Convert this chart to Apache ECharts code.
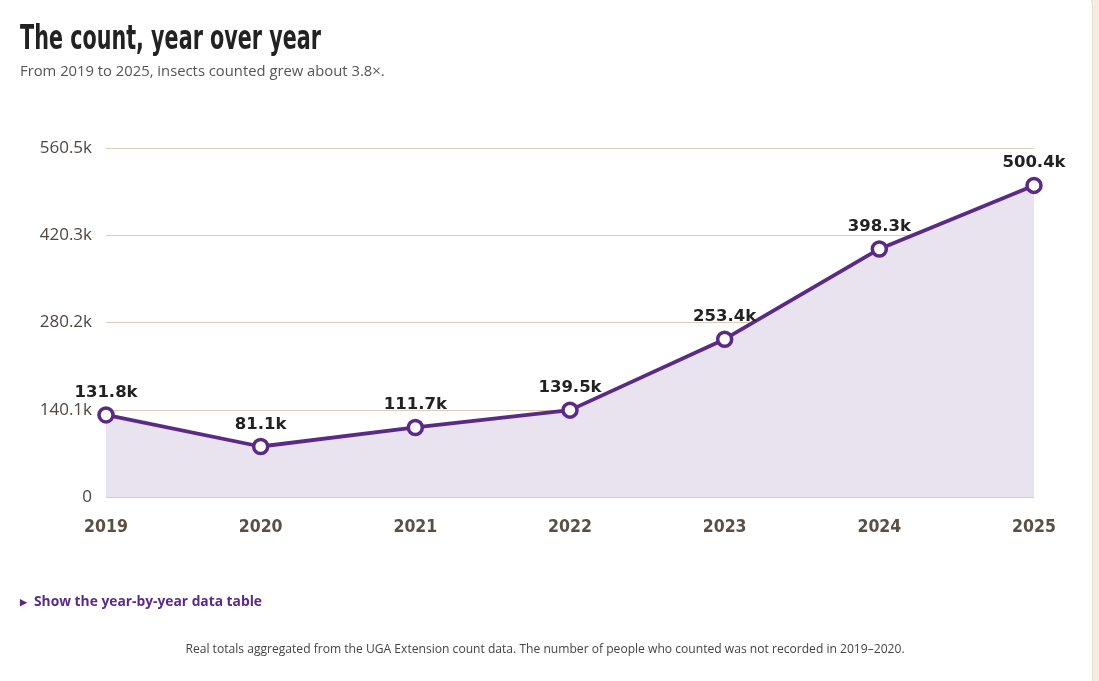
<!DOCTYPE html>
<html>
<head>
<meta charset="utf-8">
<script src="https://cdn.jsdelivr.net/npm/echarts@6/dist/echarts.min.js"></script>
<style>
  html, body { margin:0; padding:0; width:1099px; height:681px; overflow:hidden; background:#f3ede2; }
  #card { position:absolute; left:-12px; top:-12px; width:1105px; height:720px; background:#fff;
          border:1px solid #e6dcc7; border-radius:18px; box-sizing:border-box; }
  #title { position:absolute; left:20px; top:18px; font-family:"DejaVu Sans Condensed","Liberation Sans Narrow",sans-serif;
           font-weight:bold; font-size:33px; color:#222; white-space:nowrap; transform-origin:left top; }
  #sub { position:absolute; left:20px; top:60px; font-family:"Open Sans",sans-serif; font-size:14.8px; color:#555; white-space:nowrap; }
  #toggle { position:absolute; left:20px; top:591px; font-family:"Open Sans",sans-serif; font-weight:bold; font-size:13.8px; color:#5b2a86; white-space:nowrap; }
  #toggle .tri { font-size:9px; display:inline-block; margin-right:7px; vertical-align:1px; }
  #foot { position:absolute; left:0; width:1090px; top:640px; text-align:center; font-family:"Open Sans",sans-serif; font-size:12.1px; color:#444; white-space:nowrap; }
  #chart { position:absolute; left:0; top:0; width:1099px; height:681px; }
</style>
</head>
<body>
<div id="card"></div>
<div id="chart"></div>
<div id="title">The count, year over year</div>
<div id="sub">From 2019 to 2025, insects counted grew about 3.8×.</div>
<div id="toggle"><span class="tri">▶</span>Show the year-by-year data table</div>
<div id="foot">Real totals aggregated from the UGA Extension count data. The number of people who counted was not recorded in 2019–2020.</div>
<script>
const years = ['2019','2020','2021','2022','2023','2024','2025'];
const counts = [131800, 81100, 111700, 139500, 253400, 398300, 500400];
const countLabels = ['131.8k','81.1k','111.7k','139.5k','253.4k','398.3k','500.4k'];
const yTickLabels = ['0','140.1k','280.2k','420.3k','560.5k'];
const yMax = 560460;

// fit title width (condensed display face substitute)
(function(){
  const t = document.getElementById('title');
  const w = t.getBoundingClientRect().width;
  const target = 301;
  t.style.transform = 'scaleX(' + (target / w) + ')';
})();

const chart = echarts.init(document.getElementById('chart'));
chart.setOption({
  animation: false,
  grid: { left: 106, right: 65, top: 148, bottom: 184, containLabel: false },
  xAxis: {
    type: 'category', data: years, boundaryGap: false,
    axisLine: { show: false }, axisTick: { show: false },
    axisLabel: { color: '#5a4f45', fontFamily: '"DejaVu Sans Condensed", sans-serif', fontWeight: 'bold', fontSize: 17.5, margin: 21 }
  },
  yAxis: {
    type: 'value', min: 0, max: yMax, interval: yMax / 4,
    axisLine: { show: false }, axisTick: { show: false },
    splitLine: { lineStyle: { color: '#dacebb', width: 1 } },
    axisLabel: {
      color: '#4f4740', fontFamily: '"Open Sans", sans-serif', fontSize: 17, margin: 14,
      formatter: function (v) { return yTickLabels[Math.round(v / (yMax / 4))]; }
    }
  },
  series: [{
    type: 'line', data: counts,
    symbol: 'circle', symbolSize: 14,
    itemStyle: { color: '#fff', borderColor: '#5b2a86', borderWidth: 3.5 },
    lineStyle: { color: '#5b2a86', width: 3.8 },
    areaStyle: { color: '#e9e3ef', opacity: 1 },
    label: {
      show: true, position: 'top', distance: 5,
      color: '#222', fontFamily: '"DejaVu Sans", sans-serif', fontWeight: 'bold', fontSize: 16.5,
      formatter: function (p) { return countLabels[p.dataIndex]; }
    },
    z: 3
  }]
});
</script>
</body>
</html>
